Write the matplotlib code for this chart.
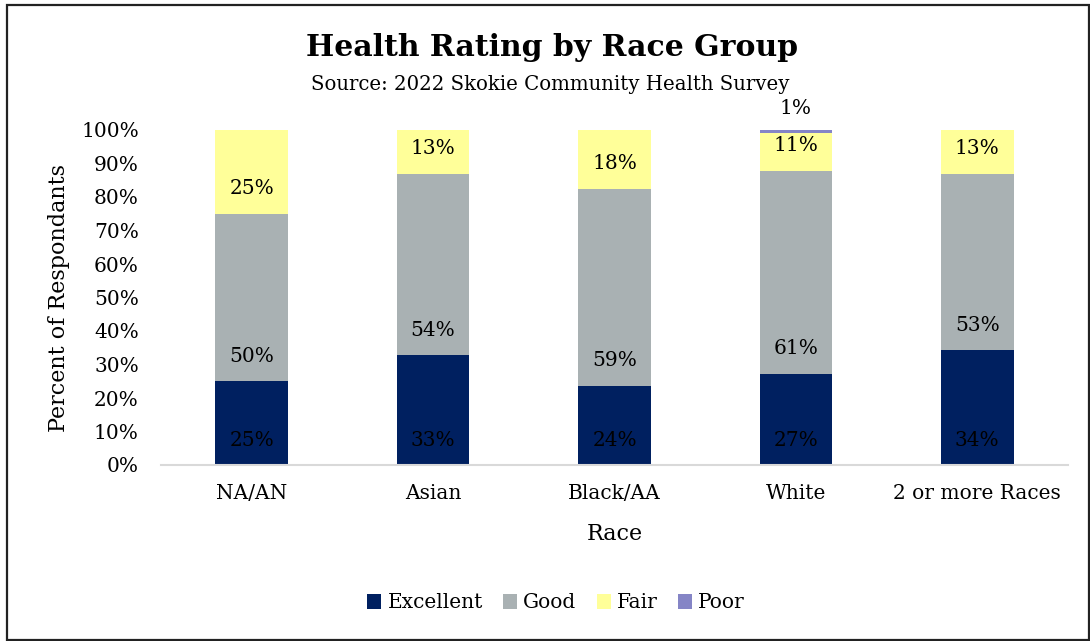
import matplotlib
matplotlib.use("Agg")
import matplotlib.pyplot as plt
from matplotlib.patches import Rectangle, Patch
import numpy as np

categories = ["NA/AN", "Asian", "Black/AA", "White", "2 or more Races"]
excellent = [25.0, 32.7, 23.6, 27.2, 34.3]
good = [50.0, 54.2, 58.8, 60.6, 52.6]
fair = [25.0, 13.1, 17.6, 11.2, 13.1]
poor = [0.0, 0.0, 0.0, 1.0, 0.0]
series_names = ["Excellent", "Good", "Fair", "Poor"]
colors = ["#002060", "#A9B1B3", "#FFFF99", "#8585C6"]
yticks = [0, 10, 20, 30, 40, 50, 60, 70, 80, 90, 100]

plt.rcParams['font.family'] = ['DejaVu Serif']

W, H = 1090, 641
fig = plt.figure(figsize=(W / 100, H / 100), dpi=100)
ax = fig.add_axes([161 / W, 1 - 465 / H, (1068 - 161) / W, (465 - 130) / H])

x = np.arange(len(categories))
bottom = np.zeros(len(categories))
series = [excellent, good, fair, poor]
for name, vals, col in zip(series_names, series, colors):
    vals = np.array(vals)
    ax.bar(x, vals, 0.4, bottom=bottom, color=col, label=name, zorder=2)
    for xi, b, v in zip(x, bottom, vals):
        if v > 0:
            ax.annotate(f"{v:.0f}%", (xi, b), xytext=(0, 18), textcoords="offset points",
                        ha="center", va="center", fontsize=14.5, color="black")
    bottom = bottom + vals

ax.set_xlim(-0.5, len(categories) - 0.5)
ax.set_ylim(0, 100)
ax.set_yticks(yticks)
ax.set_yticklabels([f"{t}%" for t in yticks], fontsize=14.5)
ax.set_xticks(x)
ax.set_xticklabels(categories, fontsize=14.5)
ax.tick_params(axis="x", length=0, pad=14)
ax.tick_params(axis="y", length=0, pad=16)
for s in ["top", "right", "left"]:
    ax.spines[s].set_visible(False)
ax.spines["bottom"].set_color("#D9D9D9")
ax.spines["bottom"].set_linewidth(1.5)

ax.set_xlabel("Race", fontsize=16, labelpad=14)
ax.set_ylabel("Percent of Respondants", fontsize=16, labelpad=8)

fig.text(552 / W, 1 - 48 / H, "Health Rating by Race Group", ha="center", va="center",
         fontsize=21.5, fontweight="bold")
fig.text(550 / W, 1 - 84 / H, "Source: 2022 Skokie Community Health Survey", ha="center",
         va="center", fontsize=14.2)

handles = [Patch(facecolor=c, label=n) for n, c in zip(series_names, colors)]
fig.legend(handles=handles, loc="center", bbox_to_anchor=(556 / W, 1 - 603 / H), ncol=4,
           frameon=False, fontsize=14.5, handlelength=0.7, handleheight=0.7,
           handletextpad=0.3, columnspacing=1.0)

fig.patches.append(Rectangle((7 / W, 1 / H), (W - 8) / W, (H - 6) / H, transform=fig.transFigure,
                             fill=False, edgecolor="#222222", linewidth=1.6))

fig.savefig("out.png", dpi=100)
